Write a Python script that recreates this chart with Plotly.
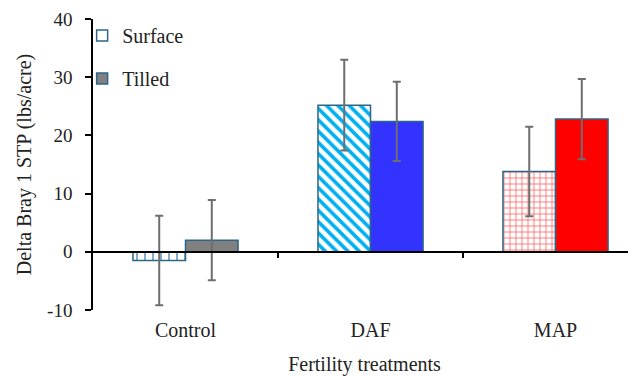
import plotly.graph_objects as go

categories = ["Control", "DAF", "MAP"]
surface = [-1.5, 25.2, 13.8]
surface_err = [7.7, 7.8, 7.7]
tilled = [2.0, 22.4, 22.8]
tilled_err = [6.9, 6.8, 6.9]
y_ticks = [-10, 0, 10, 20, 30, 40]
y_tick_labels = ["-10", "0", "10", "20", "30", "40"]

FONT = "Liberation Serif, Times New Roman, serif"
EDGE = "#2C6585"
ERR = "#6E6E6E"

fig = go.Figure()

fig.add_trace(go.Bar(
    x=categories, y=surface, name="Surface", showlegend=False,
    marker=dict(
        color="white",
        line=dict(color=EDGE, width=1.5),
        pattern=dict(
            shape=["|", "\\", "+"],
            fgcolor=["#2E75B6", "#00B0F0", "#FF4F4F"],
            bgcolor="white",
            size=[8, 8, 6],
            solidity=[0.15, 0.45, 0.22],
            fillmode="replace",
        ),
    ),
    error_y=dict(type="data", array=surface_err, color=ERR, thickness=2, width=4),
))
fig.add_trace(go.Bar(
    x=categories, y=tilled, name="Tilled", showlegend=False,
    marker=dict(color=["#808080", "#3333FF", "#FF0000"],
                line=dict(color=EDGE, width=1.5)),
    error_y=dict(type="data", array=tilled_err, color=ERR, thickness=2, width=4),
))

# legend entries
fig.add_trace(go.Scatter(x=[None], y=[None], mode="markers", name="Surface",
                         legendgroup="s",
                         marker=dict(symbol="square", size=11, color="white",
                                     line=dict(color=EDGE, width=1.5))))
fig.add_trace(go.Scatter(x=[None], y=[None], mode="markers", name="Tilled",
                         legendgroup="t",
                         marker=dict(symbol="square", size=11, color="#808080",
                                     line=dict(color=EDGE, width=1.5))))
# invisible trace for the zero-crossing category axis
fig.add_trace(go.Scatter(x=[None], y=[None], xaxis="x2", showlegend=False,
                         hoverinfo="skip"))

xr = [-0.5, 2.435]
fig.update_layout(
    width=636, height=377,
    margin=dict(l=85, r=8, t=11, b=75, autoexpand=False),
    paper_bgcolor="white", plot_bgcolor="white",
    font=dict(family=FONT, size=20, color="#222222"),
    barmode="group", bargap=0.432, bargroupgap=0,
    showlegend=True,
    legend=dict(x=-0.02, y=1.01, xanchor="left", yanchor="top",
                bgcolor="rgba(0,0,0,0)", font=dict(size=20),
                traceorder="grouped", tracegroupgap=14, itemwidth=30),
    xaxis=dict(type="category", range=xr, showline=False, ticks="",
               showgrid=False, zeroline=False, tickfont=dict(size=20),
               ticklabelstandoff=6, automargin=False,
               title=dict(text="Fertility treatments", font=dict(size=20),
                          standoff=16)),
    xaxis2=dict(overlaying="x", anchor="free", position=0.2, range=xr,
                showline=True, linecolor="black", linewidth=1.5,
                ticks="outside", tickvals=[0.5, 1.5], ticklen=5,
                tickwidth=2, tickcolor="black", automargin=False,
                showticklabels=False, showgrid=False, zeroline=False),
    yaxis=dict(range=[-10, 40], tickvals=y_ticks, ticktext=y_tick_labels,
               showline=True, automargin=False,
               linecolor="black", linewidth=1.5, ticks="outside", ticklen=6,
               tickwidth=1.5, tickcolor="black", showgrid=False,
               zeroline=False, tickfont=dict(size=19), ticklabelstandoff=9,
               ticklabeloverflow="allow",
               title=dict(text="Delta Bray 1 STP (lbs/acre)",
                          font=dict(size=20), standoff=10)),
)

fig.write_html("out.html")
